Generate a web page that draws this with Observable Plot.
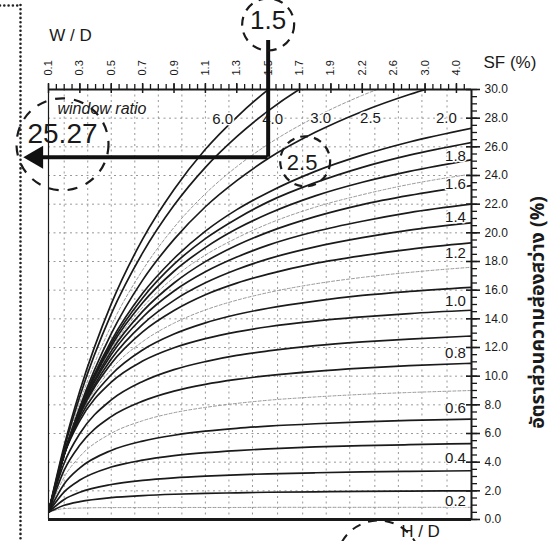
<!DOCTYPE html>
<html><head><meta charset="utf-8">
<script src="https://cdn.jsdelivr.net/npm/d3@7"></script>
<script src="https://cdn.jsdelivr.net/npm/@observablehq/plot@0.6"></script>
<style>body{margin:0;background:#fff} #chart svg{display:block}</style>
</head><body><div id="chart"></div>
<script>
// ---- tick labels ----
const wdLabels = ["0.1","0.3","0.5","0.7","0.9","1.1","1.3","1.5","1.7","1.9","2.2","2.6","3.0","4.0"];
const sfTicks = [0,2,4,6,8,10,12,14,16,18,20,22,24,26,28,30];
const gridY = [2,4,6,8,10,12,14,16,18,20,22,24,26,28];
const gridX = [0.5,1.25,2,2.75,3.5,4.25,5,5.75,6.5,7.3,8.1,8.85,9.6,10.4,11.15,11.9,12.7];

// ---- curve samples (x = position on the W/D scale, y = SF %) ----
const xIdx = [0, 0.5, 1, 2, 3, 4, 5, 6, 7, 8.5, 10, 11.5, 13.48];
const hd02 = [0.5,0.76,0.80,0.83,0.83,0.84,0.84,0.84,0.85,0.85,0.85,0.85,0.85];
const hd03 = [0.5,0.99,1.25,1.53,1.67,1.76,1.82,1.86,1.90,1.93,1.96,1.98,2.0];
const hd04 = [0.5,1.40,1.90,2.44,2.73,2.91,3.03,3.12,3.19,3.26,3.32,3.36,3.40];
const hd05 = [0.5,1.93,2.75,3.66,4.14,4.45,4.66,4.81,4.93,5.06,5.15,5.22,5.30];
const hd06 = [0.5,2.48,3.60,4.82,5.47,5.88,6.16,6.36,6.51,6.68,6.81,6.91,7.0];
const hd07 = [0.5,2.96,4.40,6.01,6.89,7.45,7.82,8.10,8.32,8.55,8.73,8.86,9.0];
const hd08 = [0.5,3.45,5.20,7.18,8.26,8.96,9.43,9.77,10.04,10.34,10.56,10.73,10.90];
const hd09 = [0.5,3.94,6.00,8.34,9.63,10.46,11.02,11.45,11.76,12.13,12.39,12.59,12.80];
const hd10 = [0.5,4.52,6.90,9.58,11.05,11.98,12.62,13.09,13.45,13.84,14.13,14.37,14.60];
const hd11 = [0.5,4.56,7.10,10.10,11.83,12.94,13.72,14.30,14.74,15.24,15.63,15.91,16.2];
const hd12 = [0.5,4.54,7.20,10.48,12.41,13.70,14.62,15.30,15.83,16.44,16.89,17.24,17.6];
const hd13 = [0.5,4.53,7.31,10.88,13.09,14.58,15.68,16.49,17.12,17.87,18.41,18.85,19.3];
const hd14 = [0.5,4.54,7.40,11.20,13.62,15.29,16.51,17.44,18.18,19.02,19.66,20.19,20.7];
const hd15 = [0.5,4.55,7.51,11.51,14.11,15.94,17.28,18.31,19.14,20.09,20.81,21.41,22.0];
const hd16 = [0.5,4.53,7.55,11.75,14.52,16.50,17.99,19.13,20.05,21.13,21.97,22.61,23.3];
const hd17 = [0.5,4.56,7.61,11.90,14.80,16.89,18.45,19.64,20.63,21.79,22.66,23.38,24.1];
const hd18 = [0.5,4.54,7.66,12.09,15.12,17.32,18.97,20.28,21.33,22.58,23.53,24.29,25.1];
const hd19 = [0.5,4.53,7.69,12.28,15.46,17.81,19.60,20.99,22.16,23.50,24.57,25.42,26.3];
const hd20 = [0.5,4.57,7.75,12.46,15.78,18.21,20.12,21.62,22.82,24.29,25.42,26.34,27.3];
const hd25 = [0.5,4.54,7.85,12.96,16.70,19.54,21.82,23.64,25.18,27.01,28.47,29.65,30.9];
const hd30 = [0.5,4.75,8.19,13.53,17.40,20.38,22.73,24.62,26.18,28.07,29.59,30.80,32.1];
const hd40 = [0.5,4.93,8.60,14.34,18.60,21.92,24.57,26.71,28.51,30.69,32.4];
const hd60 = [0.5,5.14,8.98,15.04,19.56,23.02,25.83,28.08,29.99,32.3];
const faintCurves = [hd02, hd07, hd12, hd17, hd30];
const solidCurves = [hd03, hd04, hd05, hd06, hd08, hd09, hd10, hd11, hd13, hd14, hd15, hd16, hd18, hd19, hd20, hd25, hd40, hd60];

// ---- H/D curve labels ----
const hdLabel = ["6.0","4.0","3.0","2.5","2.0","1.8","1.6","1.4","1.2","1.0","0.8","0.6","0.4","0.2"];
const hdLabelX = [5.55,7.14,8.67,10.26,12.68,12.97,12.97,12.97,12.97,12.97,12.97,12.97,12.97,12.97];
const hdLabelY = [27.9,27.9,28.0,28.0,28.0,25.33,23.38,21.07,18.56,15.21,11.58,7.75,4.26,1.26];

// ---- worked example ----
const readWD = "1.5";
const readHD = "2.5";
const readSF = 25.27;

const X_MAX = 13.48;
const W = 554, H = 541, mT = 89, mR = 83, mB = 22, mL = 48;
const PX = X_MAX / (W - mL - mR);   // x data units per pixel
const PY = 30 / (H - mT - mB);      // y data units per pixel
const wdIndex = wdLabels.indexOf(readWD);

const toRows = (list, kind) => list.flatMap((vals, j) => vals.map((v, i) => ({x: xIdx[i], y: v, id: kind + j})));
const faintRows = toRows(faintCurves, "f");
const solidRows = toRows(solidCurves, "s");
const labelRows = hdLabel.map((t, i) => ({t, x: hdLabelX[i], y: hdLabelY[i]}));
const minorX = d3.range(0, X_MAX + 1e-9, 0.25);
const majorX = wdLabels.map((_, i) => i);
const minorY = d3.range(0, 30.01, 0.5);

const narrow = "'Liberation Sans Narrow', 'Liberation Sans', Arial, sans-serif";
const sans = "'Liberation Sans', Arial, sans-serif";

const chart = Plot.plot({
  width: W, height: H,
  marginTop: mT, marginRight: mR, marginBottom: mB, marginLeft: mL,
  x: {domain: [0, X_MAX], axis: null},
  y: {domain: [0, 30], axis: null},
  style: {background: "white", fontFamily: sans, color: "#1a1a1a"},
  marks: [
    // dotted grid
    Plot.ruleY(gridY, {stroke: "#8c8c8c", strokeWidth: 0.9, strokeDasharray: "2,3.5"}),
    Plot.ruleX(gridX, {stroke: "#8c8c8c", strokeWidth: 0.9, strokeDasharray: "2,3.5"}),
    // curves
    Plot.line(faintRows, {x: "x", y: "y", z: "id", curve: "monotone-x", clip: true, stroke: "#9a9a9a", strokeWidth: 1, strokeDasharray: "3,2"}),
    Plot.line(solidRows, {x: "x", y: "y", z: "id", curve: "monotone-x", clip: true, stroke: "#1a1a1a", strokeWidth: 1.7}),
    Plot.text(labelRows, {x: "x", y: "y", text: "t", fontSize: 15, fontFamily: sans, fill: "#1a1a1a", stroke: "white", strokeWidth: 3}),
    // frame
    Plot.ruleX([0], {stroke: "#1a1a1a", strokeWidth: 1.2}),
    Plot.ruleX([X_MAX], {stroke: "#1a1a1a", strokeWidth: 2}),
    Plot.ruleY([30], {stroke: "#1a1a1a", strokeWidth: 2}),
    Plot.ruleY([0], {stroke: "#1a1a1a", strokeWidth: 3.2}),
    // top W/D scale ticks & labels
    Plot.ruleX(minorX, {x: d => d, y1: 30, y2: 30 + 5 * PY, stroke: "#1a1a1a", strokeWidth: 1.3}),
    Plot.ruleX(majorX, {x: d => d, y1: 30 - 4 * PY, y2: 30 + 6 * PY, stroke: "#1a1a1a", strokeWidth: 1.5}),
    Plot.text(majorX, {x: d => d, y: 30, dy: -14, rotate: -90, textAnchor: "start", text: i => wdLabels[i], fontSize: 11, fontFamily: narrow}),
    // right SF scale ticks & labels
    Plot.ruleY(minorY, {y: d => d, x1: X_MAX, x2: X_MAX + 6 * PX, stroke: "#1a1a1a", strokeWidth: 1.3}),
    Plot.ruleY(sfTicks, {y: d => d, x1: X_MAX - 5 * PX, x2: X_MAX + 9 * PX, stroke: "#1a1a1a", strokeWidth: 1.6}),
    Plot.text(sfTicks, {x: X_MAX, y: d => d, dx: 13, textAnchor: "start", text: d => d.toFixed(1), fontSize: 12, fontFamily: narrow}),
    // titles
    Plot.text(["W / D"], {x: 0, y: 30, dx: 22, dy: -54, text: d => d, fontSize: 17}),
    Plot.text(["SF (%)"], {x: X_MAX, y: 30, dx: 12, dy: -27, textAnchor: "start", text: d => d, fontSize: 17}),
    Plot.text(["อัตราส่วนความส่องสว่าง (%)"], {x: X_MAX, y: 15, dx: 66, dy: 8, rotate: -90, text: d => d, fontSize: 19.5, fontWeight: "bold", fontFamily: "'Noto Sans Thai', 'Noto Sans', 'DejaVu Sans', sans-serif"}),
    Plot.text(["window ratio"], {x: 0, y: 30, dx: 9, dy: 19, textAnchor: "start", text: d => d, fontSize: 16, fontStyle: "italic"}),
    Plot.text(["H / D"], {x: X_MAX, y: 0, dx: -51, dy: 12, text: d => d, fontSize: 17}),
    Plot.dot([0], {x: X_MAX, y: 0, dx: -93, dy: 43, r: 42, fill: "none", stroke: "#1a1a1a", strokeWidth: 2, strokeDasharray: "9,8"}),
    // worked example: W/D 1.5 + H/D 2.5 -> 25.27
    Plot.ruleX([wdIndex], {x: d => d, y1: readSF, y2: 30 + 49 * PY, stroke: "#111", strokeWidth: 4}),
    Plot.ruleY([readSF], {y: d => d, x1: wdIndex, x2: -8 * PX, stroke: "#111", strokeWidth: 4}),
    Plot.dot([readSF], {x: 0, y: d => d, dx: -12, symbol: "triangle", rotate: -90, r: 8.5, fill: "#111", stroke: "none"}),
    Plot.dot([readWD], {x: wdIndex, y: 30, dy: -65, r: 26, fill: "none", stroke: "#1a1a1a", strokeWidth: 2.2, strokeDasharray: "9,7"}),
    Plot.text([readWD], {x: wdIndex, y: 30, dy: -69, text: d => d, fontSize: 26, fontFamily: sans}),
    Plot.dot([readHD], {x: wdIndex, y: readSF, dx: 37, dy: 4, r: 25, fill: "white", fillOpacity: 0, stroke: "#1a1a1a", strokeWidth: 2.2, strokeDasharray: "8,6"}),
    Plot.text([readHD], {x: wdIndex, y: readSF, dx: 34, dy: 6, text: d => d, fontSize: 22, fontFamily: sans}),
    Plot.dot([readSF], {x: 0, y: d => d, dx: 14, dy: -13, r: 46, fill: "none", stroke: "#1a1a1a", strokeWidth: 2.2, strokeDasharray: "10,9"}),
    Plot.text([readSF], {x: 0, y: d => d, dx: 14, dy: -23, text: d => String(d), fontSize: 28, fontFamily: sans}),
    // dotted border at left
    Plot.ruleX([0], {dx: -28, y1: 30 + 84 * PY, y2: -22 * PY, stroke: "#222", strokeWidth: 2.6, strokeDasharray: "0,4.3", strokeLinecap: "round"}),
    Plot.ruleY([30 + 84 * PY], {x1: -48 * PX, x2: -28 * PX, stroke: "#222", strokeWidth: 2.6, strokeDasharray: "0,4.3", strokeLinecap: "round"})
  ]
});
document.getElementById("chart").appendChild(chart);
</script>
</body></html>
